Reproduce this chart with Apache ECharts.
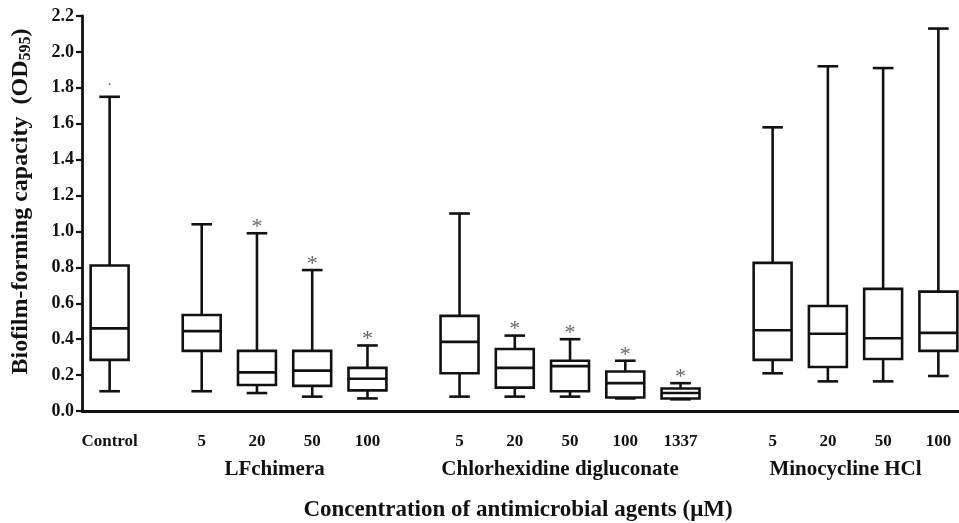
<!DOCTYPE html>
<html lang="en">
<head>
<meta charset="UTF-8">
<title>Biofilm-forming capacity</title>
<script src="https://cdn.jsdelivr.net/npm/echarts@6/dist/echarts.min.js"></script>
<style>
    *{margin:0;padding:0;box-sizing:border-box;}
    html,body{width:959px;height:523px;background:#fff;}
    #main{width:959px;height:523px;}
</style>
</head>
<body>
<div id="main"></div>
<script>
    // tick labels under each box, and which agent group each box belongs to
    var tickLabels = ['Control','5','20','50','100','5','20','50','100','1337','5','20','50','100'];
    var groupOf    = [0,1,1,1,1,2,2,2,2,2,3,3,3,3];
    var groupNames = ['', 'LFchimera', 'Chlorhexidine digluconate', 'Minocycline HCl'];

    // box values (OD595)
    var whiskerMin = [0.11,0.11,0.10,0.08,0.07,0.08,0.08,0.08,0.07,0.065,0.21,0.165,0.165,0.195];
    var q1         = [0.285,0.335,0.145,0.14,0.115,0.21,0.13,0.11,0.075,0.07,0.285,0.245,0.29,0.335];
    var median     = [0.46,0.445,0.215,0.225,0.18,0.385,0.24,0.25,0.155,0.10,0.45,0.43,0.405,0.435];
    var q3         = [0.81,0.535,0.335,0.335,0.24,0.53,0.345,0.28,0.22,0.125,0.825,0.585,0.68,0.665];
    var whiskerMax = [1.75,1.04,0.99,0.785,0.365,1.10,0.42,0.40,0.28,0.155,1.58,1.92,1.91,2.13];
    var significant = [0,0,1,1,1,0,1,1,1,1,0,0,0,0];
    var outlierBox = [0];
    var outlierVal = [1.82];

    var yTicks = [0, 2.2, 0.2]; // min, max, step

    var FONT = '"Liberation Serif", "Times New Roman", serif';

    // slot layout on a category axis: 3 slots between boxes, 5 between groups
    var slotOf = [];
    var s = 1;
    for (var i = 0; i < tickLabels.length; i++) {
        if (i > 0) s += (groupOf[i] !== groupOf[i-1]) ? 5 : 3;
        slotOf.push(s);
    }
    var slots = [];
    for (var k = 0; k <= s + 1; k++) slots.push('');
    slotOf.forEach(function (p, i) { slots[p] = tickLabels[i]; });

    var boxData = tickLabels.map(function (t, i) {
        return [slotOf[i], whiskerMin[i], q1[i], median[i], q3[i], whiskerMax[i], significant[i]];
    });
    var outData = outlierBox.map(function (b, i) { return [slotOf[b], outlierVal[i]]; });

    function renderBox(params, api) {
        var x = api.value(0);
        var w = api.size([1, 0])[0];
        var bh = w * 1.03, ch = w * 0.56;
        var pMin = api.coord([x, api.value(1)]);
        var pQ1 = api.coord([x, api.value(2)]);
        var pMed = api.coord([x, api.value(3)]);
        var pQ3 = api.coord([x, api.value(4)]);
        var pMax = api.coord([x, api.value(5)]);
        var cx = pMin[0];
        var ls = {stroke: '#111', lineWidth: 2.6, fill: null};
        var kids = [
            {type: 'line', shape: {x1: cx, y1: pMin[1], x2: cx, y2: pQ1[1]}, style: ls},
            {type: 'line', shape: {x1: cx, y1: pQ3[1], x2: cx, y2: pMax[1]}, style: ls},
            {type: 'line', shape: {x1: cx - ch, y1: pMin[1], x2: cx + ch, y2: pMin[1]}, style: ls},
            {type: 'line', shape: {x1: cx - ch, y1: pMax[1], x2: cx + ch, y2: pMax[1]}, style: ls},
            {type: 'rect', shape: {x: cx - bh, y: pQ3[1], width: bh * 2, height: pQ1[1] - pQ3[1]},
                style: {stroke: '#111', lineWidth: 2.6, fill: '#fff'}},
            {type: 'line', shape: {x1: cx - bh, y1: pMed[1], x2: cx + bh, y2: pMed[1]}, style: ls}
        ];
        if (api.value(6)) {
            kids.push({type: 'text', x: cx, y: pMax[1] - 6,
                style: {text: '*', font: '22px ' + FONT, fill: '#666', align: 'center', verticalAlign: 'middle'}});
        }
        return {type: 'group', children: kids};
    }

    var myChart = echarts.init(document.getElementById('main'));
    var option = {
        animation: false,
        backgroundColor: '#fff',
        grid: {left: 82, right: -7, top: 16, bottom: 112, containLabel: false, outerBoundsMode: 'none'},
        xAxis: {
            type: 'category',
            data: slots,
            boundaryGap: true,
            name: 'Concentration of antimicrobial agents (\u03bcM)',
            nameLocation: 'middle',
            nameGap: 88,
            nameTextStyle: {fontFamily: FONT, fontWeight: 'bold', fontSize: 23, color: '#111', padding: [0, 12, 0, 0]},
            axisLine: {lineStyle: {color: '#111', width: 2.8}},
            axisTick: {alignWithLabel: true, length: 7, lineStyle: {color: '#111', width: 2.2},
                interval: function (i, v) { return v !== ''; }},
            axisLabel: {interval: 0, margin: 22, fontFamily: FONT, fontWeight: 'bold', fontSize: 17, color: '#111'},
            splitLine: {show: false}
        },
        yAxis: {
            type: 'value',
            min: yTicks[0], max: yTicks[1], interval: yTicks[2],
            name: '{a|Biofilm-forming capacity  (OD}{s|595}{a|)}',
            nameLocation: 'middle',
            nameGap: 47,
            nameTextStyle: {
                padding: [0, 0, 0, 24],
                rich: {
                    a: {fontFamily: FONT, fontWeight: 'bold', fontSize: 24, color: '#111', lineHeight: 28},
                    s: {fontFamily: FONT, fontWeight: 'bold', fontSize: 16, color: '#111', lineHeight: 28, padding: [10, 0, 0, 0]}
                }
            },
            axisLine: {show: true, lineStyle: {color: '#111', width: 2.8}},
            axisTick: {show: true, length: 6, lineStyle: {color: '#111', width: 2.2}},
            axisLabel: {margin: 8, fontFamily: FONT, fontWeight: 'bold', fontSize: 18, color: '#111',
                formatter: function (v) { return v.toFixed(1); }},
            splitLine: {show: false}
        },
        series: [
            {type: 'custom', renderItem: renderBox, data: boxData, encode: {x: 0, y: [1, 2, 3, 4, 5]}, z: 3},
            {type: 'scatter', data: outData, symbolSize: 2, itemStyle: {color: '#555'}, z: 4}
        ]
    };
    myChart.setOption(option);

    // group names centred under each agent's boxes
    var texts = [];
    for (var g = 1; g < groupNames.length; g++) {
        var xs = [];
        slotOf.forEach(function (p, i) { if (groupOf[i] === g) xs.push(myChart.convertToPixel({xAxisIndex: 0}, p)); });
        var mid = (Math.min.apply(null, xs) + Math.max.apply(null, xs)) / 2;
        texts.push({type: 'text', x: mid - 10, y: 470,
            style: {text: groupNames[g], font: 'bold 21px ' + FONT, fill: '#111', align: 'center', verticalAlign: 'middle'}});
    }
    myChart.setOption({graphic: texts});
</script>
</body>
</html>
